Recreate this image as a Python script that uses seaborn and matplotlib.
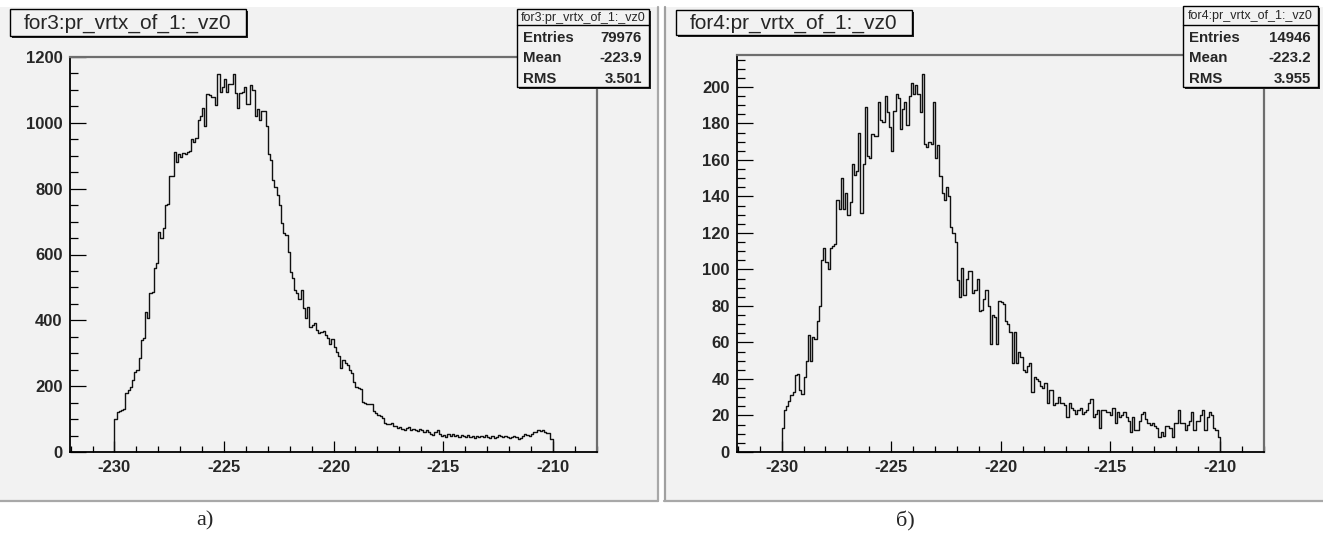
import numpy as np
import pandas as pd
import matplotlib
matplotlib.use("Agg")
import matplotlib.pyplot as plt
from matplotlib.patches import Rectangle
from matplotlib.lines import Line2D
from matplotlib.ticker import MultipleLocator
import seaborn as sns

# ---------------- data ----------------
BIN_START = -230.0
BIN_WIDTH = 0.1

counts_for3 = [
    100, 122, 126, 128, 130, 178, 188, 198, 219, 244,
    250, 285, 340, 345, 424, 406, 482, 485, 558, 573,
    667, 650, 680, 750, 753, 838, 840, 912, 880, 905,
    895, 907, 905, 912, 913, 950, 942, 955, 1009, 1021,
    1044, 990, 1088, 1085, 1080, 1080, 1055, 1147, 1095, 1110,
    1134, 1095, 1118, 1118, 1148, 1090, 1044, 1092, 1095, 1110,
    1058, 1058, 1115, 1100, 1021, 1041, 1009, 1037, 1035, 991,
    905, 887, 827, 805, 780, 751, 697, 664, 659, 609,
    548, 528, 492, 484, 464, 492, 437, 406, 441, 381,
    385, 391, 371, 362, 365, 368, 355, 345, 328, 342,
    320, 305, 292, 254, 278, 270, 265, 250, 241, 214,
    198, 195, 190, 152, 150, 147, 146, 145, 125, 119,
    112, 108, 102, 89, 85, 86, 87, 78, 80, 72,
    76, 70, 67, 72, 77, 66, 70, 67, 64, 70,
    66, 62, 68, 60, 56, 52, 60, 67, 55, 50,
    52, 47, 55, 50, 54, 48, 52, 47, 52, 50,
    46, 52, 45, 48, 44, 50, 45, 48, 46, 52,
    45, 44, 50, 42, 46, 52, 48, 45, 50, 47,
    44, 47, 50, 45, 38, 44, 50, 56, 52, 48,
    55, 62, 60, 67, 65, 66, 62, 59, 58, 40,
]

counts_for4 = [
    13, 23, 25, 28, 31, 33, 42, 43, 34, 32,
    41, 50, 64, 50, 63, 62, 72, 80, 105, 112,
    104, 100, 112, 113, 114, 138, 133, 150, 133, 142,
    130, 137, 158, 152, 154, 175, 131, 158, 189, 162,
    161, 174, 173, 173, 192, 182, 181, 195, 186, 178,
    165, 187, 196, 194, 177, 188, 192, 179, 195, 202,
    196, 201, 196, 186, 207, 169, 167, 170, 169, 192,
    161, 168, 151, 142, 138, 145, 140, 123, 120, 115,
    94, 85, 101, 86, 95, 99, 99, 87, 89, 95,
    77, 78, 84, 89, 80, 59, 75, 74, 59, 83,
    82, 81, 72, 70, 66, 49, 66, 49, 55, 52,
    45, 44, 47, 49, 33, 41, 40, 39, 36, 35,
    38, 27, 34, 34, 26, 27, 30, 27, 27, 26,
    19, 27, 24, 23, 21, 23, 24, 21, 22, 23,
    27, 29, 19, 21, 23, 13, 23, 23, 22, 22,
    20, 24, 16, 22, 19, 20, 22, 19, 17, 11,
    19, 12, 12, 17, 21, 22, 18, 16, 15, 16,
    14, 13, 8, 11, 9, 14, 14, 13, 8, 16,
    16, 23, 16, 16, 12, 15, 17, 22, 12, 17,
    17, 20, 23, 12, 19, 22, 20, 13, 12, 8,
]

titles = ["for3:pr_vrtx_of_1:_vz0", "for4:pr_vrtx_of_1:_vz0"]
stats_labels = ["Entries", "Mean", "RMS"]
stats_for3 = ["79976", "-223.9", "3.501"]
stats_for4 = ["14946", "-223.2", "3.955"]
captions = ["а)", "б)"]
x_range = (-232.05, -208.0)
y_max = [1200, 217.5]
y_major = [200, 20]
y_minor = [50, 5]

# ---------------- style ----------------
sns.set_style("white")
plt.rcParams["font.family"] = ["Liberation Sans", "DejaVu Sans"]
plt.rcParams["axes.unicode_minus"] = False

W, H = 1323, 536
fig = plt.figure(figsize=(W / 100, H / 100), dpi=100)
fig.patch.set_facecolor("white")
PANEL = "#f2f2f2"


def fx(px):
    return px / W


def fy(py):
    return 1 - py / H


def add_rect(x0, y0, x1, y1, **kw):
    r = Rectangle((fx(x0), fy(y1)), (x1 - x0) / W, (y1 - y0) / H,
                  transform=fig.transFigure, **kw)
    fig.add_artist(r)
    return r


def add_line(xs, ys, **kw):
    l = Line2D([fx(v) for v in xs], [fy(v) for v in ys],
               transform=fig.transFigure, **kw)
    fig.add_artist(l)
    return l


# pad backgrounds
add_rect(0, 7, 658, 501, facecolor=PANEL, edgecolor="none", zorder=-10)
add_line([658, 658], [7, 501], color="#a8a8a8", lw=1.6, zorder=-9)
add_line([0, 658], [501, 501], color="#a8a8a8", lw=1.6, zorder=-9)
add_rect(664, 7, 1323, 501, facecolor=PANEL, edgecolor="none", zorder=-10)
add_line([664.5, 664.5], [7, 501], color="#a0a0a0", lw=1.6, zorder=-9)
add_line([664, 1323], [501, 501], color="#a8a8a8", lw=1.6, zorder=-9)

axes_px = [(69.5, 57, 596.5, 452), (736.7, 55, 1263.5, 452)]
all_counts = [counts_for3, counts_for4]

for i, (x0, y0, x1, y1) in enumerate(axes_px):
    ax = fig.add_axes([fx(x0), fy(y1), (x1 - x0) / W, (y1 - y0) / H])
    ax.set_facecolor(PANEL)
    counts = np.array(all_counts[i], dtype=float)
    padded = np.concatenate([[0.0], counts, [0.0]])
    edges = BIN_START + BIN_WIDTH * np.arange(-1, len(counts) + 2)
    centers = (edges[:-1] + edges[1:]) / 2
    df = pd.DataFrame({"vz0": centers, "n": padded})
    sns.histplot(data=df, x="vz0", weights="n", bins=[float(e) for e in edges],
                 element="step", fill=False, color="#111111", linewidth=1.0,
                 ax=ax)
    ax.set_xlim(*x_range)
    ax.set_ylim(0, y_max[i])
    ax.set_xlabel("")
    ax.set_ylabel("")
    ax.xaxis.set_major_locator(MultipleLocator(5))
    ax.xaxis.set_minor_locator(MultipleLocator(1))
    ax.yaxis.set_major_locator(MultipleLocator(y_major[i]))
    ax.yaxis.set_minor_locator(MultipleLocator(y_minor[i]))
    for s in ["left", "bottom"]:
        ax.spines[s].set_color("black")
        ax.spines[s].set_linewidth(1.3)
    for s in ["top", "right"]:
        ax.spines[s].set_color("#6e6e6e")
        ax.spines[s].set_linewidth(1.6)
        ax.spines[s].set_visible(True)
    ax.tick_params(axis="x", which="major", direction="in", length=8,
                   width=0.9, pad=6, labelsize=12, bottom=True, top=False,
                   color="black")
    ax.tick_params(axis="x", which="minor", direction="in", length=4,
                   width=0.9, bottom=True, top=False, color="black")
    ax.tick_params(axis="y", which="major", direction="in", length=11.5,
                   width=0.9, pad=5, labelsize=12, left=True, right=False,
                   color="black")
    ax.tick_params(axis="y", which="minor", direction="in", length=6,
                   width=0.9, left=True, right=False, color="black")
    for lab in ax.get_xticklabels() + ax.get_yticklabels():
        lab.set_fontweight("bold")

# title boxes
title_boxes = [(10, 9, 246, 36), (676, 10, 912, 35)]
for (x0, y0, x1, y1), t in zip(title_boxes, titles):
    add_rect(x0 + 2, y0 + 2, x1 + 2, y1 + 2, facecolor="#222222",
             edgecolor="none", zorder=2)
    add_rect(x0, y0, x1, y1, facecolor=PANEL, edgecolor="black", lw=1.0,
             zorder=2.1)
    fig.text(fx((x0 + x1) / 2), fy((y0 + y1) / 2 + 0.5), t, ha="center",
             va="center", fontsize=15, zorder=3)

# stats boxes
stat_boxes = [(516.7, 9.3, 649, 87.3), (1182.7, 6, 1318, 87.3)]
stat_values = [stats_for3, stats_for4]
for (x0, y0, x1, y1), t, vals in zip(stat_boxes, titles, stat_values):
    add_rect(x0 + 2, y0 + 2, x1 + 2, y1 + 2, facecolor="#222222",
             edgecolor="none", zorder=2)
    add_rect(x0, y0, x1, y1, facecolor=PANEL, edgecolor="black", lw=1.0,
             zorder=2.1)
    add_line([x0, x1], [25, 25], color="black", lw=1.0, zorder=2.2)
    fig.text(fx((x0 + x1) / 2), fy((y0 + 25) / 2 + 0.5), t, ha="center",
             va="center", fontsize=9, zorder=3)
    row_y = [37.5, 58.5, 79]
    for lab, val, ry in zip(stats_labels, vals, row_y):
        fig.text(fx(x0 + 6), fy(ry), lab, ha="left", va="center",
                 fontsize=10.8, fontweight="bold", zorder=3)
        fig.text(fx(x1 - 7), fy(ry), val, ha="right", va="center",
                 fontsize=10.8, fontweight="bold", zorder=3)

# captions
for cx, c in zip([205, 905], captions):
    fig.text(fx(cx), fy(521), c, ha="center", va="center", fontsize=16,
             family=["Liberation Serif", "DejaVu Serif"])

fig.savefig("out.png", dpi=100)
